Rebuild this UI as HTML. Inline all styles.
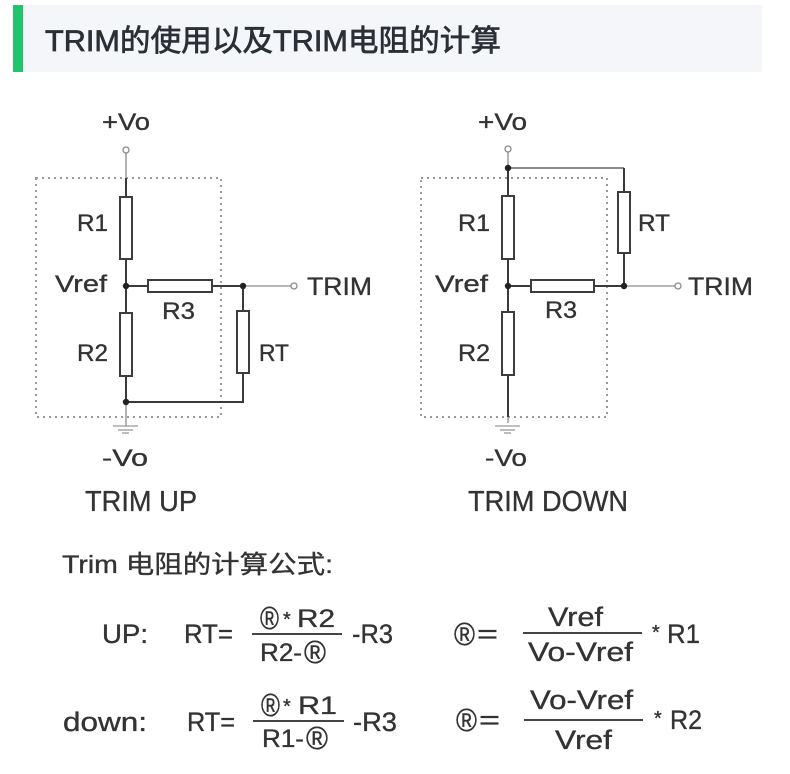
<!DOCTYPE html>
<html><head><meta charset="utf-8"><style>
html,body{margin:0;padding:0;background:#fff;}
svg{display:block}
text{font-family:"Liberation Sans","Noto Sans CJK SC",sans-serif;fill:#333;stroke:#333;stroke-width:0.35px;}
</style></head><body>
<svg width="790" height="774" viewBox="0 0 790 774" xmlns="http://www.w3.org/2000/svg">
<rect x="0" y="0" width="790" height="774" fill="#fff"/>
<!-- header -->
<rect x="13" y="5" width="749" height="67" fill="#f5f6f9"/>
<rect x="13" y="5" width="10" height="67" fill="#21c46b"/>
<text x="45" y="51" font-size="30" textLength="456" lengthAdjust="spacingAndGlyphs" style="fill:#2b2f36;stroke:#2b2f36;stroke-width:0.7px">TRIM的使用以及TRIM电阻的计算</text>

<!-- LEFT CIRCUIT -->
<rect x="36" y="178" width="185" height="239" fill="none" stroke="#9a9a9a" stroke-width="2" stroke-dasharray="2 4"/>
<g stroke="#8a8a8a" stroke-width="1.3" fill="none">
  <path d="M126 153 V178"/>
  <path d="M243 286 H291"/>
  <path d="M126 403 V426"/>
</g>
<g stroke="#3a3a3a" stroke-width="2" fill="none">
  <path d="M126 178 V197"/>
  <path d="M126 259 V313"/>
  <path d="M126 376 V403"/>
  <path d="M126 286 H148"/>
  <path d="M212 286 H243"/>
  <path d="M243 286 V311"/>
  <path d="M243 373 V402 H126"/>
</g>
<g stroke="#8a8a8a" stroke-width="1.3" fill="#fff">
  <circle cx="126" cy="150" r="3"/>
  <circle cx="294" cy="286" r="3"/>
</g>
<g fill="#222">
  <circle cx="126" cy="286" r="3.2"/>
  <circle cx="243" cy="286" r="3.2"/>
  <circle cx="126" cy="402" r="3.2"/>
</g>
<g stroke="#3d3d3d" stroke-width="2" fill="#fff">
  <rect x="120" y="197" width="12" height="62"/>
  <rect x="120" y="313" width="12" height="63"/>
  <rect x="148" y="280" width="64" height="12"/>
  <rect x="237" y="311" width="12" height="62"/>
</g>
<g stroke="#999" stroke-width="1.3">
  <path d="M113 426 H138"/>
  <path d="M118 430 H133"/>
  <path d="M122 433 H129"/>
</g>
<g font-size="24">
  <text x="102" y="130" textLength="48" lengthAdjust="spacingAndGlyphs">+Vo</text>
  <text x="77" y="231" textLength="31" lengthAdjust="spacingAndGlyphs">R1</text>
  <text x="55" y="292" textLength="52" lengthAdjust="spacingAndGlyphs">Vref</text>
  <text x="162" y="319" textLength="33" lengthAdjust="spacingAndGlyphs">R3</text>
  <text x="77" y="361" textLength="31" lengthAdjust="spacingAndGlyphs">R2</text>
  <text x="259" y="361" textLength="30" lengthAdjust="spacingAndGlyphs">RT</text>
  <text x="307" y="295" font-size="25" textLength="65" lengthAdjust="spacingAndGlyphs">TRIM</text>
  <text x="102" y="466" textLength="46" lengthAdjust="spacingAndGlyphs">-Vo</text>
  <text x="85" y="511" font-size="29" textLength="112" lengthAdjust="spacingAndGlyphs">TRIM UP</text>
</g>

<!-- RIGHT CIRCUIT -->
<rect x="421" y="178" width="186" height="239" fill="none" stroke="#9a9a9a" stroke-width="2" stroke-dasharray="2 4"/>
<g stroke="#8a8a8a" stroke-width="1.3" fill="none">
  <path d="M508 152 V168"/>
  <path d="M624 286 H675"/>
  <path d="M508 417 V423"/>
</g>
<path d="M508 168 H624" stroke="#666" stroke-width="1.6" fill="none"/>
<g stroke="#3a3a3a" stroke-width="2" fill="none">
  <path d="M624 168 V192"/>
  <path d="M624 253 V286"/>
  <path d="M594 286 H624"/>
  <path d="M508 168 V196"/>
  <path d="M508 259 V312"/>
  <path d="M508 286 H531"/>
  <path d="M508 375 V417"/>
</g>
<g stroke="#8a8a8a" stroke-width="1.3" fill="#fff">
  <circle cx="508" cy="149" r="3"/>
  <circle cx="678" cy="286" r="3"/>
</g>
<g fill="#222">
  <circle cx="508" cy="168" r="3.2"/>
  <circle cx="508" cy="286" r="3.2"/>
  <circle cx="624" cy="286" r="3.2"/>
</g>
<g stroke="#3d3d3d" stroke-width="2" fill="#fff">
  <rect x="502" y="196" width="12" height="63"/>
  <rect x="502" y="312" width="12" height="63"/>
  <rect x="531" y="280" width="63" height="12"/>
  <rect x="618" y="192" width="12" height="61"/>
</g>
<g stroke="#999" stroke-width="1.3">
  <path d="M495 426 H520"/>
  <path d="M500 430 H515"/>
  <path d="M504 433 H511"/>
</g>
<g font-size="24">
  <text x="478" y="130" textLength="49" lengthAdjust="spacingAndGlyphs">+Vo</text>
  <text x="458" y="231" textLength="32" lengthAdjust="spacingAndGlyphs">R1</text>
  <text x="435" y="292" textLength="53" lengthAdjust="spacingAndGlyphs">Vref</text>
  <text x="545" y="318" textLength="32" lengthAdjust="spacingAndGlyphs">R3</text>
  <text x="458" y="361" textLength="32" lengthAdjust="spacingAndGlyphs">R2</text>
  <text x="638" y="231" textLength="32" lengthAdjust="spacingAndGlyphs">RT</text>
  <text x="688" y="295" font-size="25" textLength="65" lengthAdjust="spacingAndGlyphs">TRIM</text>
  <text x="485" y="466" textLength="42" lengthAdjust="spacingAndGlyphs">-Vo</text>
  <text x="468" y="511" font-size="29" textLength="160" lengthAdjust="spacingAndGlyphs">TRIM DOWN</text>
</g>

<!-- FORMULAS -->
<text x="62" y="573" font-size="25" textLength="271" lengthAdjust="spacingAndGlyphs">Trim 电阻的计算公式:</text>

<g font-size="27">
  <!-- UP -->
  <text x="102" y="643" textLength="46" lengthAdjust="spacingAndGlyphs">UP:</text>
  <text x="184" y="643" textLength="49" lengthAdjust="spacingAndGlyphs">RT=</text>
  <text x="260" y="629" font-size="32" textLength="19" lengthAdjust="spacingAndGlyphs">®</text>
  <text x="283" y="626" font-size="20">*</text>
  <text x="297" y="627" font-size="25" textLength="38" lengthAdjust="spacingAndGlyphs">R2</text>
  <path d="M252 634 H342" stroke="#444" stroke-width="2"/>
  <text x="260" y="661" font-size="25" textLength="42" lengthAdjust="spacingAndGlyphs">R2-</text>
  <text x="304" y="663" font-size="32" textLength="22" lengthAdjust="spacingAndGlyphs">®</text>
  <text x="352" y="643" textLength="41" lengthAdjust="spacingAndGlyphs">-R3</text>

  <!-- down -->
  <text x="63" y="731" textLength="84" lengthAdjust="spacingAndGlyphs">down:</text>
  <text x="187" y="731" textLength="48" lengthAdjust="spacingAndGlyphs">RT=</text>
  <text x="261" y="716" font-size="32" textLength="19" lengthAdjust="spacingAndGlyphs">®</text>
  <text x="283" y="713" font-size="20">*</text>
  <text x="298" y="714" font-size="25" textLength="39" lengthAdjust="spacingAndGlyphs">R1</text>
  <path d="M253 721 H344" stroke="#444" stroke-width="2"/>
  <text x="262" y="747" font-size="25" textLength="42" lengthAdjust="spacingAndGlyphs">R1-</text>
  <text x="306" y="749" font-size="32" textLength="22" lengthAdjust="spacingAndGlyphs">®</text>
  <text x="353" y="731" textLength="44" lengthAdjust="spacingAndGlyphs">-R3</text>

  <!-- right formula 1 -->
  <text x="454" y="645" font-size="32" textLength="21" lengthAdjust="spacingAndGlyphs">®</text>
  <text x="477" y="643" textLength="21" lengthAdjust="spacingAndGlyphs">=</text>
  <text x="548" y="626" textLength="55" lengthAdjust="spacingAndGlyphs">Vref</text>
  <path d="M523 633 H642" stroke="#444" stroke-width="2"/>
  <text x="528" y="661" textLength="105" lengthAdjust="spacingAndGlyphs">Vo-Vref</text>
  <text x="652" y="639" font-size="20">*</text>
  <text x="667" y="643" textLength="33" lengthAdjust="spacingAndGlyphs">R1</text>

  <!-- right formula 2 -->
  <text x="456" y="731" font-size="32" textLength="21" lengthAdjust="spacingAndGlyphs">®</text>
  <text x="479" y="729" textLength="21" lengthAdjust="spacingAndGlyphs">=</text>
  <text x="530" y="709" textLength="103" lengthAdjust="spacingAndGlyphs">Vo-Vref</text>
  <path d="M524 720 H643" stroke="#444" stroke-width="2"/>
  <text x="555" y="749" textLength="57" lengthAdjust="spacingAndGlyphs">Vref</text>
  <text x="654" y="725" font-size="20">*</text>
  <text x="670" y="729" textLength="32" lengthAdjust="spacingAndGlyphs">R2</text>
</g>
</svg>
</body></html>
